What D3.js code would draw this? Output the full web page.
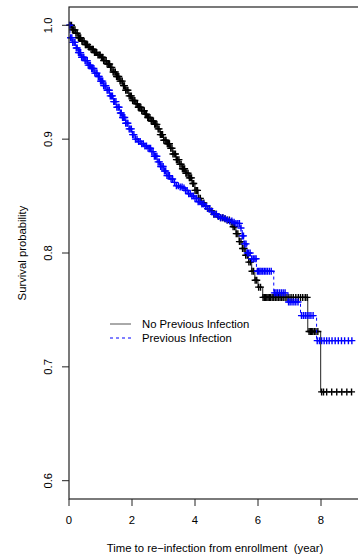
<!DOCTYPE html>
<html>
<head>
<meta charset="utf-8">
<script src="https://cdn.jsdelivr.net/npm/d3@7"></script>
<style>
  body { margin: 0; background: #fff; }
  svg { display: block; font-family: "Liberation Sans", Arial, sans-serif; }
  svg text { white-space: pre; }
</style>
</head>
<body>
<svg id="chart"></svg>
<script>
// Kaplan-Meier curves, values

const groupNames = ["No Previous Infection", "Previous Infection"];
const xTicks = [0, 2, 4, 6, 8];
const yTicks = [0.6, 0.7, 0.8, 0.9, 1.0];

// group 1: no previous infection (step times / survival after step)
const noPrevTime = [0, 0.1, 0.2, 0.3, 0.4, 0.5, 0.6, 0.7, 0.8, 0.9, 1.0, 1.1, 1.2, 1.3, 1.4, 1.5, 1.6, 1.7, 1.8, 1.9,
  2.0, 2.1, 2.2, 2.3, 2.4, 2.5, 2.6, 2.7, 2.8, 2.9, 3.0, 3.1, 3.2, 3.3, 3.4, 3.5, 3.6, 3.7, 3.8, 3.9,
  4.0, 4.1, 4.2, 4.3, 4.4, 4.5, 4.6, 4.7, 4.8, 4.9, 5.0, 5.1, 5.2, 5.3, 5.4, 5.5, 5.6, 5.7, 5.8, 5.9,
  6.0, 6.15, 7.58, 7.99];
const noPrevSurv = [1.000, 0.996, 0.993, 0.989, 0.986, 0.983, 0.981, 0.979, 0.976, 0.974, 0.972, 0.969, 0.966, 0.963, 0.959, 0.955, 0.951, 0.947, 0.943, 0.938,
  0.934, 0.931, 0.928, 0.925, 0.922, 0.919, 0.916, 0.913, 0.909, 0.904, 0.899, 0.896, 0.892, 0.887, 0.882, 0.878, 0.874, 0.870, 0.866, 0.861,
  0.855, 0.848, 0.844, 0.841, 0.839, 0.837, 0.834, 0.832, 0.831, 0.830, 0.829, 0.827, 0.823, 0.817, 0.810, 0.804, 0.798, 0.792, 0.784, 0.776,
  0.770, 0.761, 0.731, 0.678];
const noPrevCensor = [0.04, 0.08, 0.11, 0.15, 0.19, 0.22, 0.26, 0.3, 0.33, 0.37, 0.41, 0.44, 0.48, 0.52, 0.55, 0.59, 0.63, 0.66, 0.7, 0.74,
  0.77, 0.81, 0.85, 0.88, 0.92, 0.96, 0.99, 1.03, 1.07, 1.1, 1.14, 1.18, 1.21, 1.25, 1.29, 1.32, 1.36, 1.4, 1.43, 1.47,
  1.51, 1.54, 1.58, 1.62, 1.65, 1.69, 1.73, 1.76, 1.8, 1.84, 1.87, 1.91, 1.95, 1.98, 2.02, 2.06, 2.09, 2.13, 2.17, 2.2,
  2.24, 2.28, 2.31, 2.35, 2.39, 2.42, 2.46, 2.5, 2.53, 2.57, 2.61, 2.64, 2.68, 2.72, 2.75, 2.79, 2.83, 2.86, 2.9, 2.94,
  2.97, 3.01, 3.05, 3.08, 3.12, 3.16, 3.19, 3.23, 3.27, 3.3, 3.34, 3.38, 3.41, 3.45, 3.49, 3.52, 3.56, 3.6, 3.63, 3.67,
  3.71, 3.74, 3.78, 3.82, 3.85, 3.89, 3.93, 3.96, 4.0, 4.04, 4.08, 4.12, 4.17, 4.22, 4.28, 4.34, 4.4, 4.46, 4.53, 4.6,
  4.67, 4.74, 4.81, 4.88, 4.95, 5.02, 5.09, 5.15, 5.21, 5.26, 5.31, 5.36, 5.41, 5.46, 5.51, 5.56, 5.61, 5.66, 5.71, 5.76,
  5.81, 5.86, 5.91, 5.96, 6.02, 6.08, 6.16,
  6.2, 6.24, 6.28, 6.32, 6.36, 6.4, 6.45, 6.5, 6.55, 6.6, 6.65, 6.7, 6.75, 6.8, 6.86, 6.92, 6.98, 7.05, 7.12, 7.2, 7.28,
  7.35, 7.42, 7.5, 7.56,
  7.62, 7.66, 7.7, 7.74, 7.79, 7.84, 7.9,
  8.02, 8.08, 8.18, 8.34, 8.5, 8.66, 8.82, 8.97];

// group 2: previous infection
const prevTime = [0, 0.03, 0.1, 0.2, 0.3, 0.4, 0.5, 0.6, 0.7, 0.8, 0.9, 1.0, 1.1, 1.2, 1.3, 1.4, 1.5, 1.6, 1.7, 1.8, 1.9,
  2.0, 2.1, 2.2, 2.3, 2.4, 2.5, 2.6, 2.7, 2.8, 2.9, 3.0, 3.1, 3.2, 3.3, 3.4, 3.5, 3.6, 3.7, 3.8, 3.9,
  4.0, 4.1, 4.2, 4.3, 4.4, 4.5, 4.6, 4.7, 4.8, 4.9, 5.0, 5.1, 5.2, 5.3, 5.45, 5.5, 5.55, 5.65, 5.8, 5.95,
  6.5, 6.95, 7.35, 7.86];
const prevSurv = [1.000, 0.989, 0.985, 0.980, 0.976, 0.972, 0.969, 0.965, 0.962, 0.958, 0.955, 0.951, 0.947, 0.943, 0.938, 0.933, 0.928, 0.923, 0.919, 0.914, 0.909,
  0.904, 0.900, 0.898, 0.896, 0.894, 0.892, 0.889, 0.885, 0.880, 0.876, 0.872, 0.868, 0.865, 0.862, 0.859, 0.858, 0.857, 0.855, 0.852, 0.850,
  0.848, 0.845, 0.843, 0.841, 0.839, 0.836, 0.834, 0.832, 0.831, 0.830, 0.829, 0.828, 0.827, 0.826, 0.822, 0.815, 0.808, 0.800, 0.795, 0.784,
  0.765, 0.757, 0.745, 0.723];
const prevCensor = [0.02, 0.05, 0.09, 0.12, 0.16, 0.19, 0.23, 0.26, 0.3, 0.33, 0.37, 0.4, 0.44, 0.47, 0.51, 0.54, 0.58, 0.61, 0.65, 0.68,
  0.72, 0.75, 0.79, 0.82, 0.86, 0.89, 0.93, 0.96, 1.0, 1.03, 1.07, 1.1, 1.14, 1.17, 1.21, 1.24, 1.28, 1.31, 1.35, 1.38,
  1.42, 1.45, 1.49, 1.52, 1.56, 1.59, 1.63, 1.66, 1.7, 1.73, 1.77, 1.8, 1.84, 1.87, 1.91, 1.94, 1.98, 2.02, 2.06, 2.11,
  2.16, 2.21, 2.26, 2.31, 2.36, 2.41, 2.46, 2.51, 2.55, 2.59, 2.63, 2.67, 2.71, 2.75, 2.79, 2.83, 2.87, 2.91, 2.95, 2.99,
  3.03, 3.07, 3.11, 3.15, 3.19, 3.24, 3.29, 3.35, 3.41, 3.47, 3.53, 3.59, 3.65, 3.7, 3.75, 3.8, 3.85, 3.9, 3.95, 4.0,
  4.05, 4.1, 4.16, 4.22, 4.28, 4.34, 4.4, 4.47, 4.54, 4.61, 4.68, 4.75, 4.82, 4.89, 4.96, 5.03, 5.1, 5.17, 5.24, 5.3,
  5.36, 5.41, 5.46, 5.5, 5.54, 5.58, 5.62, 5.66, 5.7, 5.75, 5.8, 5.85, 5.9, 5.94,
  5.98, 6.02, 6.06, 6.1, 6.15, 6.2, 6.25, 6.3, 6.36, 6.42,
  6.52, 6.57, 6.62, 6.68, 6.74, 6.8, 6.86,
  6.97, 7.02, 7.08, 7.14, 7.2, 7.27,
  7.38, 7.44, 7.5, 7.56, 7.62, 7.68, 7.75,
  7.88, 7.95, 8.02, 8.1, 8.18, 8.26, 8.35, 8.45, 8.55, 8.65, 8.75, 8.87, 8.98];

const width = 358, height = 560;
const svg = d3.select("#chart").attr("width", width).attr("height", height);

const x = d3.scaleLinear().domain([0, 8]).range([69, 321]);
const y = d3.scaleLinear().domain([0.6, 1.0]).range([480.7, 25.3]);
const plotTop = 7, plotBottom = 499, plotRight = 362;
const fontSize = "11.3px";

const series = [
  { name: groupNames[0], time: noPrevTime, surv: noPrevSurv, censor: noPrevCensor, color: "#000000", dash: null, lineColor: "#222" },
  { name: groupNames[1], time: prevTime, surv: prevSurv, censor: prevCensor, color: "#0000ff", dash: "3,3", lineColor: "#0000ff" }
];

// survival value of a step curve at time t
function survAt(s, t) {
  const i = d3.bisectRight(s.time, t) - 1;
  return s.surv[Math.max(i, 0)];
}

const line = d3.line().curve(d3.curveStepAfter).x(d => x(d[0])).y(d => y(d[1]));

series.forEach(s => {
  const pts = s.time.map((t, i) => [t, s.surv[i]]);
  const last = d3.max(s.censor);
  pts.push([last, s.surv[s.surv.length - 1]]);

  svg.append("path")
    .attr("d", line(pts))
    .attr("fill", "none")
    .attr("stroke", s.lineColor)
    .attr("stroke-width", 1)
    .attr("stroke-dasharray", s.dash);

  // censoring marks (+)
  svg.append("g")
    .selectAll("path")
    .data(s.censor)
    .join("path")
    .attr("d", t => {
      const cx = x(t), cy = y(survAt(s, t));
      return `M${cx - 3.5},${cy}H${cx + 3.5}M${cx},${cy - 3.5}V${cy + 3.5}`;
    })
    .attr("stroke", s.color)
    .attr("stroke-width", 1.4)
    .attr("fill", "none");
});

// box
svg.append("rect")
  .attr("x", 69).attr("y", plotTop)
  .attr("width", plotRight - 69).attr("height", plotBottom - plotTop)
  .attr("fill", "none")
  .attr("stroke", "#222")
  .attr("stroke-width", 1.2);

// x axis
const xAxis = svg.append("g");
xAxis.selectAll("line")
  .data(xTicks)
  .join("line")
  .attr("x1", d => x(d)).attr("x2", d => x(d))
  .attr("y1", plotBottom).attr("y2", plotBottom + 7)
  .attr("stroke", "#222");
xAxis.selectAll("text")
  .data(xTicks)
  .join("text")
  .attr("x", d => x(d))
  .attr("y", 524)
  .attr("text-anchor", "middle")
  .style("font-size", fontSize)
  .attr("fill", "#000")
  .text(d => d);

// y axis
const yAxis = svg.append("g");
yAxis.selectAll("line")
  .data(yTicks)
  .join("line")
  .attr("x1", 62).attr("x2", 69)
  .attr("y1", d => y(d)).attr("y2", d => y(d))
  .attr("stroke", "#222");
yAxis.selectAll("text")
  .data(yTicks)
  .join("text")
  .attr("transform", d => `translate(52, ${y(d)}) rotate(-90)`)
  .attr("text-anchor", "middle")
  .style("font-size", fontSize)
  .attr("fill", "#000")
  .text(d => d3.format(".1f")(d));

// axis titles
svg.append("text")
  .attr("x", 215)
  .attr("y", 552)
  .attr("text-anchor", "middle")
  .style("font-size", fontSize)
  .attr("fill", "#000")
  .text("Time to re\u2212infection from enrollment  (year)");

svg.append("text")
  .attr("transform", `translate(25.5, 253) rotate(-90)`)
  .attr("text-anchor", "middle")
  .style("font-size", fontSize)
  .attr("fill", "#000")
  .text("Survival probability");

// legend
const legend = svg.append("g");
series.forEach((s, i) => {
  const ly = 324 + i * 14;
  legend.append("line")
    .attr("x1", 110).attr("x2", 131)
    .attr("y1", ly).attr("y2", ly)
    .attr("stroke", i === 0 ? "#555" : "#0000ff")
    .attr("stroke-width", 1)
    .attr("stroke-dasharray", s.dash);
  legend.append("text")
    .attr("x", 142)
    .attr("y", ly + 4)
    .style("font-size", fontSize)
    .attr("fill", "#000")
    .text(s.name);
});
</script>
</body>
</html>
